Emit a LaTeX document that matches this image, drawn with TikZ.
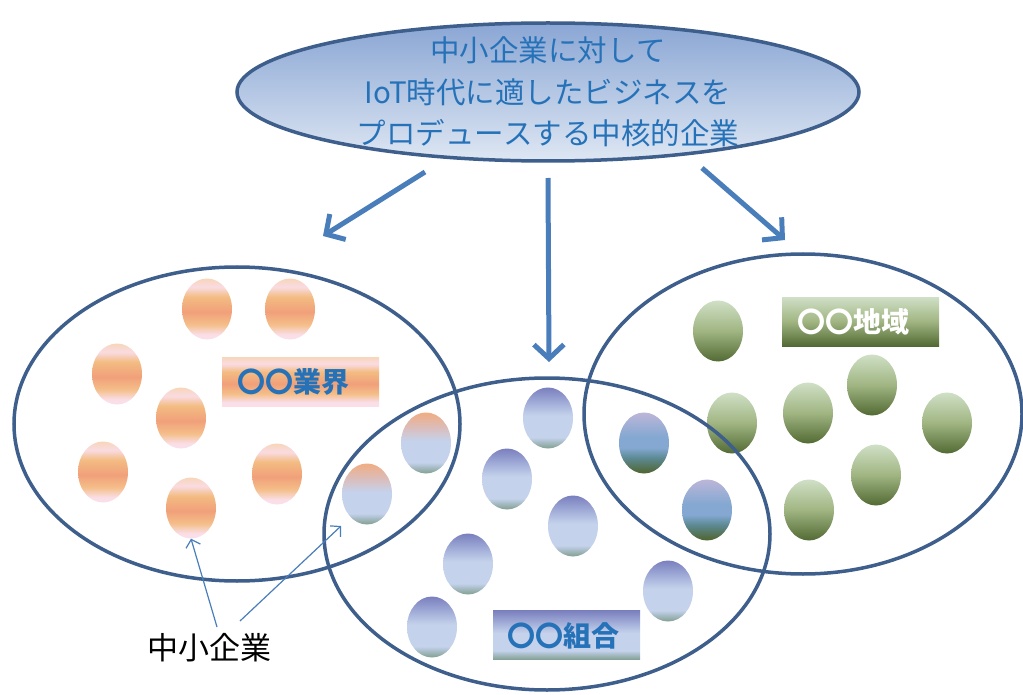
\documentclass[tikz,border=0pt]{standalone}
\usepackage{fontspec}
\newfontfamily\jp{Noto Sans CJK JP}
\usetikzlibrary{shapes.geometric,arrows.meta}
\definecolor{rim}{RGB}{62,94,140}
\definecolor{arrowblue}{RGB}{74,126,187}
\definecolor{txtblue}{RGB}{38,114,185}
\definecolor{topA}{RGB}{138,166,212}
\definecolor{topB}{RGB}{222,231,243}
% orange
\definecolor{orA}{RGB}{248,214,186}
\definecolor{orB}{RGB}{249,219,226}
\definecolor{orC}{RGB}{243,188,130}
\definecolor{orD}{RGB}{241,160,122}
\definecolor{orE}{RGB}{244,190,136}
\definecolor{orF}{RGB}{250,222,232}
% blue
\definecolor{blA}{RGB}{122,127,190}
\definecolor{blB}{RGB}{160,172,215}
\definecolor{blC}{RGB}{197,210,235}
\definecolor{blD}{RGB}{172,192,205}
\definecolor{blE}{RGB}{130,160,145}
% mixed orange/blue
\definecolor{obA}{RGB}{240,172,130}
\definecolor{obB}{RGB}{218,190,190}
% blue/green
\definecolor{bgA}{RGB}{188,182,216}
\definecolor{bgB}{RGB}{132,168,210}
\definecolor{bgC}{RGB}{92,138,148}
\definecolor{bgD}{RGB}{80,100,45}
% green
\definecolor{grA}{RGB}{207,224,198}
\definecolor{grB}{RGB}{160,181,130}
\definecolor{grC}{RGB}{82,106,52}
\pgfdeclareverticalshading{orsh}{100bp}{color(0bp)=(orF); color(25bp)=(orF); color(29bp)=(orF); color(37.5bp)=(orE); color(47.5bp)=(orD); color(60bp)=(orC); color(68bp)=(orB); color(75bp)=(orA); color(100bp)=(orA)}
\pgfdeclareverticalshading{blsh}{100bp}{color(0bp)=(blE); color(25bp)=(blE); color(31bp)=(blD); color(34bp)=(blC); color(52bp)=(blC); color(63bp)=(blB); color(75bp)=(blA); color(100bp)=(blA)}
\pgfdeclareverticalshading{obsh}{100bp}{color(0bp)=(blE); color(25bp)=(blE); color(31bp)=(blD); color(34bp)=(blC); color(52bp)=(blC); color(62bp)=(obB); color(75bp)=(obA); color(100bp)=(obA)}
\pgfdeclareverticalshading{bgsh}{100bp}{color(0bp)=(bgD); color(25bp)=(bgD); color(38bp)=(bgC); color(46bp)=(bgB); color(55bp)=(bgB); color(75bp)=(bgA); color(100bp)=(bgA)}
\pgfdeclareverticalshading{grsh}{100bp}{color(0bp)=(grC); color(25bp)=(grC); color(50bp)=(grB); color(75bp)=(grA); color(100bp)=(grA)}
\tikzset{
  ov/.style={ellipse, minimum width=50pt, minimum height=61pt, inner sep=0pt, draw=none},
  orov/.style={ov, shading=orsh},
  blov/.style={ov, shading=blsh},
  obov/.style={ov, shading=obsh},
  bgov/.style={ov, shading=bgsh},
  grov/.style={ov, shading=grsh},
  group/.style={ellipse, draw=rim, line width=3.5pt, inner sep=0pt},
  labelbox/.style={rectangle, minimum width=157pt, minimum height=49pt, inner sep=0pt, draw=none},
  labeltext/.style={font=\jp\bfseries\fontsize{28}{32}\selectfont, inner sep=0pt},
  bigarrow/.style={draw=arrowblue, line width=5pt, -{Straight Barb[length=14pt,width=30pt,line width=5pt]}},
  thinarrow/.style={draw=arrowblue, line width=1.2pt, -{Straight Barb[length=7pt,width=15pt,line width=1.2pt]}}
}
\begin{document}
\begin{tikzpicture}[x=1pt,y=-1pt]
\useasboundingbox (0,0) rectangle (1023,695);
% top ellipse
\node[ellipse, draw=rim, line width=3.5pt, top color=topA, bottom color=topB, minimum width=622pt, minimum height=138pt, inner sep=0pt] (core) at (548,92) {};
\node[font=\jp\fontsize{29.5}{41.5}\selectfont, text=txtblue, align=center, inner sep=0pt] (coretext) at (548,92) {中小企業に対して\\IoT時代に適したビジネスを\\プロデュースする中核的企業};
% orange ovals
\node[orov] (o1) at (207,309) {};
\node[orov] (o2) at (290,309) {};
\node[orov] (o3) at (117,374) {};
\node[orov] (o4) at (181,418) {};
\node[orov] (o5) at (103,472) {};
\node[orov] (o6) at (191,508) {};
\node[orov] (o7) at (277,474) {};
% mixed orange/blue
\node[obov] (m1) at (426,443) {};
\node[obov] (m2) at (367,494) {};
% blue
\node[blov] (b1) at (548,418) {};
\node[blov] (b2) at (507,479) {};
\node[blov] (b3) at (573,526) {};
\node[blov] (b4) at (468,564) {};
\node[blov] (b5) at (432,627) {};
\node[blov] (b6) at (668,591) {};
% blue/green
\node[bgov] (n1) at (644,443) {};
\node[bgov] (n2) at (707,510) {};
% green
\node[grov] (g1) at (718,331) {};
\node[grov] (g2) at (732,423) {};
\node[grov] (g3) at (808,413) {};
\node[grov] (g4) at (872,385) {};
\node[grov] (g5) at (947,423) {};
\node[grov] (g6) at (876,475) {};
\node[grov] (g7) at (809,510) {};
% group ellipses
\node[group, minimum width=446pt, minimum height=314pt] (industry) at (237,424) {};
\node[group, minimum width=446pt, minimum height=312pt] (union) at (547,534) {};
\node[group, minimum width=438pt, minimum height=320pt] (region) at (803,414) {};
% labels
\node[labelbox, shading=orsh] (lb1) at (300.5,381.5) {};
\node[labeltext, text=txtblue] (lt1) at (293,382) {〇〇業界};
\node[labelbox, minimum width=147pt, shading=blsh] (lb2) at (566.5,635) {};
\node[labeltext, text=txtblue] (lt2) at (563,636) {〇〇組合};
\node[labelbox, shading=grsh] (lb3) at (860.5,321.5) {};
\node[labeltext, text=white] (lt3) at (853,322) {〇〇地域};
% big arrows
\coordinate (s1) at (425,172); \coordinate (e1) at (323,236);
\coordinate (s2) at (548,178); \coordinate (e2) at (549,362);
\coordinate (s3) at (702,168); \coordinate (e3) at (785,240);
\draw[bigarrow] (s1) -- (e1);
\draw[bigarrow] (s2) -- (e2);
\draw[bigarrow] (s3) -- (e3);
% SMEs label
\node[font=\jp\fontsize{31}{36}\selectfont, inner sep=0pt] (smes) at (209,648) {中小企業};
\coordinate (t1) at (217,627);
\coordinate (t2) at (240,621);
\coordinate (e4) at (341,526);
\draw[thinarrow] (t1) -- (o6.south);
\draw[thinarrow] (t2) -- (e4);
\end{tikzpicture}
\end{document}
